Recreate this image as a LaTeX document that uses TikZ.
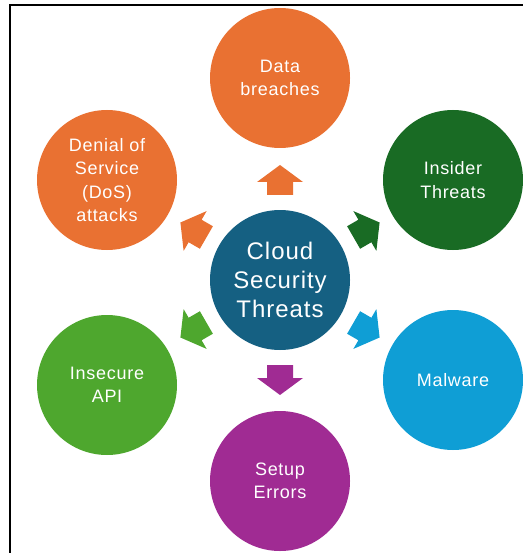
\documentclass[tikz,border=0pt]{standalone}
\usepackage{fontspec}
\setmainfont{Liberation Sans}[LetterSpace=4]
\definecolor{hubblue}{HTML}{156082}
\definecolor{orng}{HTML}{E97132}
\definecolor{dkgreen}{HTML}{196B24}
\definecolor{skyblue}{HTML}{0F9ED5}
\definecolor{purp}{HTML}{A02B93}
\definecolor{leaf}{HTML}{4EA72E}
% block arrow pointing away from the hub at angle #1, filled with colour #2
\newcommand\threatarrow[2]{%
  \begin{scope}[shift={(hub.center)},rotate=#1]
    \fill[#2] (85,-13) -- (98,-13) -- (98,-23) -- (115,0) -- (98,23) -- (98,13) -- (85,13) -- cycle;
  \end{scope}}
\begin{document}
\begin{tikzpicture}[x=1pt,y=-1pt,
  bubble/.style={circle, minimum size=140pt, inner sep=0pt, text=white, align=center,
                 font=\fontsize{18}{23.5}\selectfont},
  hub/.style={bubble, font=\fontsize{24}{29}\selectfont}]
\useasboundingbox (0,0) rectangle (522,553);
% frame
\draw[line width=2pt] (10,560) -- (10,5) -- (530,5);
% hub and surrounding threats
\node[hub, fill=hubblue] (hub) at (280,280) {Cloud\\Security\\Threats};
\node[bubble, fill=orng]    (db)  at (280,78)  {Data\\breaches};
\node[bubble, fill=dkgreen] (it)  at (453,180) {Insider\\Threats};
\node[bubble, fill=skyblue] (mw)  at (453,380) {Malware};
\node[bubble, fill=purp]    (se)  at (280,481) {Setup\\Errors};
\node[bubble, fill=leaf]    (api) at (107,385) {Insecure\\API};
\node[bubble, fill=orng]    (dos) at (107,180) {Denial of\\Service\\(DoS)\\attacks};
% arrows from the hub towards each threat
\threatarrow{90}{orng}
\threatarrow{30}{dkgreen}
\threatarrow{-30}{skyblue}
\threatarrow{-90}{purp}
\threatarrow{-150}{leaf}
\threatarrow{150}{orng}
\end{tikzpicture}
\end{document}
